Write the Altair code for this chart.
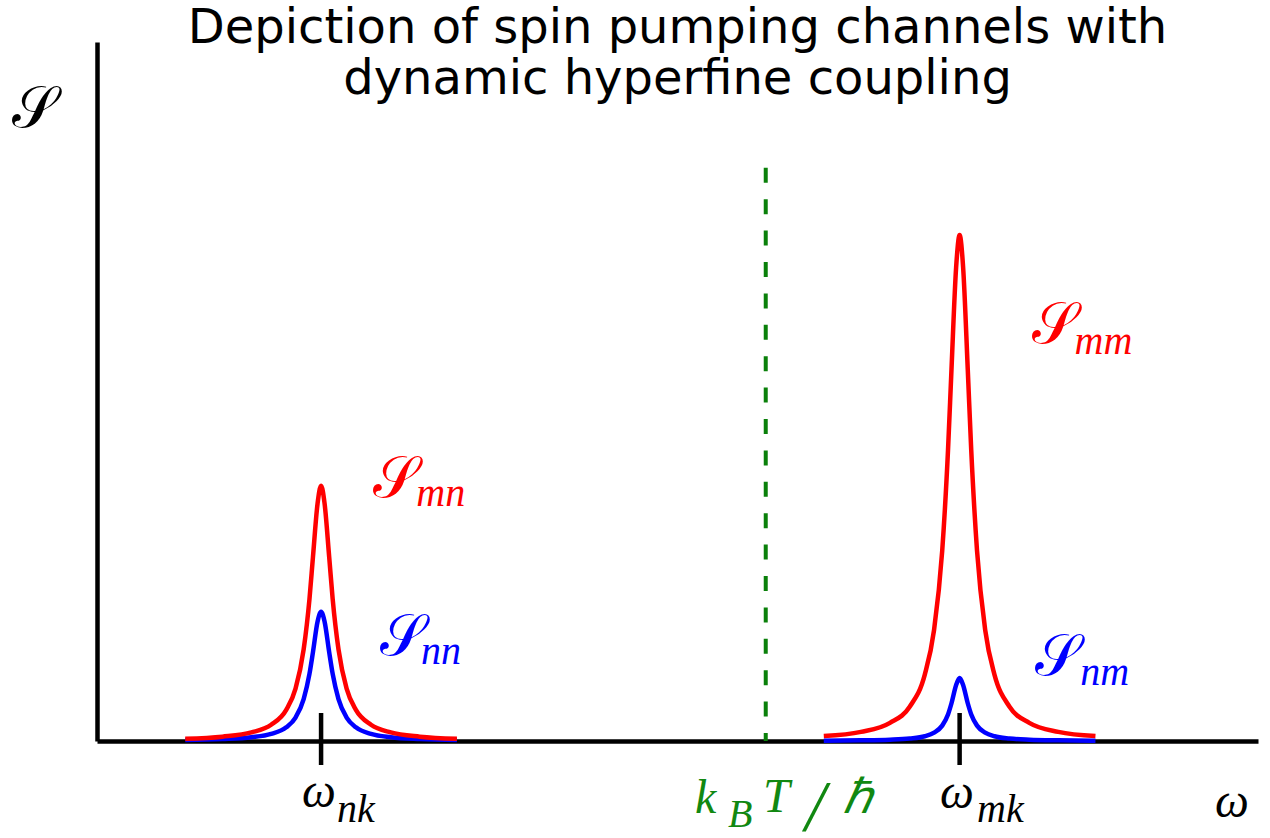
import altair as alt
import pandas as pd

# ---- curve data (omega in arbitrary units, S in arbitrary units) ----
omega_left = [0.76, 1.08, 1.33, 1.50, 1.63, 1.71, 1.78, 1.83, 1.86, 1.90, 1.93,
              1.96, 2.00, 2.03, 2.08, 2.15, 2.23, 2.36, 2.53, 2.78, 3.10]
omega_right = [6.26, 6.58, 6.83, 7.00, 7.13, 7.21, 7.28, 7.33, 7.36, 7.40, 7.43,
               7.46, 7.50, 7.53, 7.58, 7.65, 7.73, 7.86, 8.03, 8.28, 8.60]
S_mn = [0.033, 0.062, 0.123, 0.232, 0.445, 0.75, 1.31, 2.03, 2.63, 3.40, 3.65,
        3.40, 2.63, 2.03, 1.31, 0.75, 0.445, 0.232, 0.123, 0.062, 0.033]
S_nn = [0.014, 0.027, 0.053, 0.101, 0.196, 0.335, 0.60, 0.96, 1.27, 1.71, 1.85,
        1.71, 1.27, 0.96, 0.60, 0.335, 0.196, 0.101, 0.053, 0.027, 0.014]
S_mm = [0.07, 0.13, 0.26, 0.49, 0.95, 1.59, 2.72, 4.16, 5.32, 6.78, 7.24,
        6.78, 5.32, 4.16, 2.72, 1.59, 0.95, 0.49, 0.26, 0.13, 0.07]
S_nm = [0.005, 0.009, 0.018, 0.035, 0.068, 0.12, 0.22, 0.38, 0.54, 0.80, 0.90,
        0.80, 0.54, 0.38, 0.22, 0.12, 0.068, 0.035, 0.018, 0.009, 0.005]

peak_omega = [1.93, 7.43]
thermal_omega = [5.76]
thermal_top = [8.2]

# ---- annotation text ----
script_text = ["𝒮", "𝒮", "𝒮", "𝒮", "𝒮"]
script_key = ["mn", "nn", "mm", "nm", "axis"]
script_x = [2.377, 2.438, 8.053, 8.08, -0.732]
script_y = [3.49, 1.23, 5.69, 0.944, 8.78]

letter_text = ["ω", "ω", "ω", "k", "T", "ℏ"]
letter_key = ["axis", "axis", "axis", "thermal", "thermal", "thermal"]
letter_x = [1.766, 7.261, 9.63, 5.151, 5.736, 6.426]
letter_y = [-0.944, -0.959, -1.087, -1.03, -1.016, -1.03]

slash_text = ["/"]
slash_key = ["thermal"]
slash_x = [6.10]
slash_y = [-1.27]

sub_text = ["mn", "nn", "mm", "nm", "nk", "mk", "B"]
sub_key = ["mn", "nn", "mm", "nm", "axis", "axis", "thermal"]
sub_x = [2.75, 2.79, 8.42, 8.47, 2.067, 7.58, 5.435]
sub_y = [3.36, 1.10, 5.54, 0.80, -1.159, -1.159, -1.23]

title_lines = ["Depiction of spin pumping channels with", "dynamic hyperfine coupling"]

# ---- tables ----
curves = pd.concat([
    pd.DataFrame({"omega": omega_left, "S": S_nn, "key": "nn"}),
    pd.DataFrame({"omega": omega_left, "S": S_mn, "key": "mn"}),
    pd.DataFrame({"omega": omega_right, "S": S_mm, "key": "mm"}),
    pd.DataFrame({"omega": omega_right, "S": S_nm, "key": "nm"}),
], ignore_index=True)
peaks = pd.DataFrame({"omega": peak_omega})
thermal = pd.DataFrame({"omega": thermal_omega, "top": thermal_top})
scripts = pd.DataFrame({"t": script_text, "key": script_key, "x": script_x, "y": script_y})
letters = pd.DataFrame({"t": letter_text, "key": letter_key, "x": letter_x, "y": letter_y})
slashes = pd.DataFrame({"t": slash_text, "key": slash_key, "x": slash_x, "y": slash_y})
subs = pd.DataFrame({"t": sub_text, "key": sub_key, "x": sub_x, "y": sub_y})

xs = alt.Scale(domain=[0, 10], nice=False, zero=False)
ys = alt.Scale(domain=[0, 10], nice=False, zero=False)
col = alt.Color("key:N", legend=None,
                scale=alt.Scale(domain=["mn", "nn", "mm", "nm", "axis", "thermal"],
                                range=["#ff0000", "#0000ff", "#ff0000", "#0000ff", "#000000", "#118811"]))

xax = alt.Axis(domain=True, domainColor="black", domainWidth=4.5, ticks=False, labels=False,
               grid=False, title=None)
yax = alt.Axis(domain=True, domainColor="black", domainWidth=4.5, ticks=False, labels=False,
               grid=False, title=None)

thermal_line = alt.Chart(thermal).mark_rule(strokeDash=[15, 16.4], strokeWidth=4, color="#0a800a").encode(
    x=alt.X("omega:Q", scale=xs, axis=xax),
    y=alt.Y("top:Q", scale=ys, axis=yax),
    y2=alt.datum(0),
)

ticks = alt.Chart(peaks).mark_rule(strokeWidth=4.5, color="black").encode(
    x=alt.X("omega:Q", scale=xs),
    y=alt.value(671),
    y2=alt.value(723),
)

lines = []
for k, c in [("nn", "#0000ff"), ("mn", "#ff0000"), ("mm", "#ff0000"), ("nm", "#0000ff")]:
    lines.append(
        alt.Chart(curves).transform_filter(alt.datum.key == k)
        .mark_line(strokeWidth=4.5, color=c, interpolate="monotone", strokeCap="butt")
        .encode(x=alt.X("omega:Q", scale=xs), y=alt.Y("S:Q", scale=ys))
    )

script_layer = alt.Chart(scripts).mark_text(
    font="Liberation Serif", fontSize=58, align="left", baseline="alphabetic"
).encode(x=alt.X("x:Q", scale=xs), y=alt.Y("y:Q", scale=ys), text="t:N", color=col)

letter_layer = alt.Chart(letters).mark_text(
    font="Liberation Serif", fontStyle="italic", fontSize=48, align="left", baseline="alphabetic"
).encode(x=alt.X("x:Q", scale=xs), y=alt.Y("y:Q", scale=ys), text="t:N", color=col)

slash_layer = alt.Chart(slashes).mark_text(
    font="Liberation Serif", fontStyle="italic", fontSize=72, align="left", baseline="alphabetic"
).encode(x=alt.X("x:Q", scale=xs), y=alt.Y("y:Q", scale=ys), text="t:N", color=col)

sub_layer = alt.Chart(subs).mark_text(
    font="Liberation Serif", fontStyle="italic", fontSize=40, align="left", baseline="alphabetic"
).encode(x=alt.X("x:Q", scale=xs), y=alt.Y("y:Q", scale=ys), text="t:N", color=col)

chart = alt.layer(thermal_line, ticks, *lines, script_layer, letter_layer, slash_layer, sub_layer).properties(
    width=1161, height=699,
    padding={"left": 97, "top": 42, "right": 12, "bottom": 97},
    autosize=alt.AutoSizeParams(type="none"),
    title=alt.TitleParams(text=title_lines, font="DejaVu Sans", fontSize=48, fontWeight="normal",
                          anchor="middle", color="black", lineHeight=51, offset=-62),
).configure_view(stroke=None)

chart.save("out.html", embed_options={"renderer": "svg", "actions": False})
